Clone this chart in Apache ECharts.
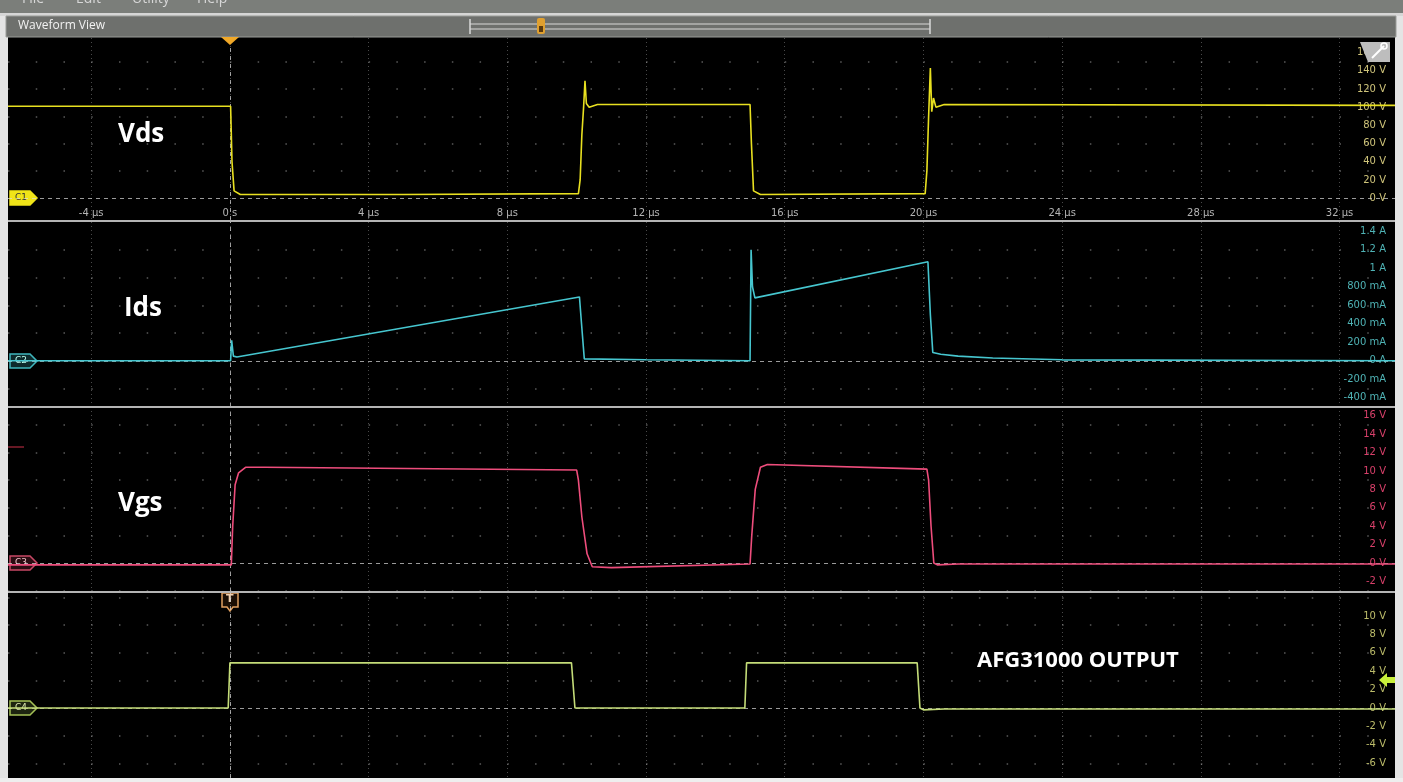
<!DOCTYPE html>
<html><head><meta charset="utf-8">
<script src="https://cdn.jsdelivr.net/npm/echarts@6/dist/echarts.min.js"></script>
<style>html,body{margin:0;padding:0;background:#000;overflow:hidden}#c{width:1403px;height:782px;}</style>
</head><body><div id="c"></div>
<script>
// ---- tick labels ----
const timeTicks = [-4, 0, 4, 8, 12, 16, 20, 24, 28, 32];
const vdsTicks = [0, 20, 40, 60, 80, 100, 120, 140, 160];
const idsTicks = [-0.4, -0.2, 0, 0.2, 0.4, 0.6, 0.8, 1.0, 1.2, 1.4];
const vgsTicks = [-2, 0, 2, 4, 6, 8, 10, 12, 14, 16];
const afgTicks = [-6, -4, -2, 0, 2, 4, 6, 8, 10];
// graticule dot rows
const vdsRows = [30, 60, 90, 120, 150];
const idsRows = [-0.3, 0.3, 0.6, 0.9, 1.2];
const vgsRows = [-3, 3, 6, 9, 12, 15];
const afgRows = [-6, -3, 3, 6, 9, 12];

// ---- series values: [time (µs), value] ----
const vdsData = [[-6.4,101],[0.02,101],[0.06,40],[0.12,8],[0.3,4],[5,4],[10.05,5],[10.1,20],[10.15,70],[10.2,100],[10.24,129],[10.28,104],[10.36,100],[10.6,103],[15.0,103],[15.04,60],[15.1,8],[15.3,4],[20.05,5],[20.1,30],[20.15,90],[20.2,143],[20.24,95],[20.29,110],[20.36,100],[20.6,103],[33.6,102]];
const idsData = [[-6.4,0],[0.02,0],[0.05,0.22],[0.1,0.05],[0.2,0.04],[10.08,0.69],[10.14,0.4],[10.22,0.02],[12,0.01],[15.0,0.0],[15.03,1.2],[15.07,0.8],[15.14,0.68],[20.13,1.07],[20.2,0.5],[20.27,0.09],[20.5,0.07],[21,0.05],[22,0.03],[24,0.01],[33.6,0]];
const vgsData = [[-6.4,-0.2],[0.04,-0.2],[0.08,4],[0.15,8.5],[0.25,9.8],[0.45,10.4],[1,10.4],[10.0,10.1],[10.05,9],[10.15,5],[10.3,1],[10.45,-0.4],[11,-0.5],[15.0,-0.1],[15.05,3],[15.15,8],[15.3,10.4],[15.5,10.7],[20.1,10.2],[20.15,9],[20.22,4],[20.3,0],[20.4,-0.2],[21,-0.1],[33.6,-0.1]];
const afgData = [[-6.4,0],[-0.05,0],[0.0,4.9],[9.85,4.9],[9.95,0],[14.85,0],[14.9,4.9],[19.82,4.9],[19.9,0],[20.0,-0.2],[20.6,-0.1],[33.6,-0.1]];

const chart = echarts.init(document.getElementById('c'), null, {renderer:'canvas'});

const panels = [
  {top:38, height:182, min:-24, max:176, ticks:vdsTicks, rows:vdsRows, color:'#e8e020', lab:'#cfc47a', data:vdsData, name:'Vds',
   fmt:v=>v+' V'},
  {top:222, height:185, min:-0.5, max:1.5, ticks:idsTicks, rows:idsRows, color:'#46c6cf', lab:'#4fb3b5', data:idsData, name:'Ids',
   fmt:v=>{const r=Math.round(v*1000); if(r===0) return '0 A'; if(Math.abs(r)>=1000) return (r/1000)+' A'; return r+' mA';}},
  {top:407, height:185, min:-3.15, max:16.95, ticks:vgsTicks, rows:vgsRows, color:'#ee4d7c', lab:'#d8406a', data:vgsData, name:'Vgs',
   fmt:v=>v+' V'},
  {top:592, height:186, min:-7.6, max:12.6, ticks:afgTicks, rows:afgRows, color:'#c4dc78', lab:'#bcbc6a', data:afgData, name:'AFG',
   fmt:v=>v+' V'}
];

const grid=[], xAxis=[], yAxis=[], series=[];
panels.forEach((p,i)=>{
  grid.push({left:8, right:8, top:p.top, height:p.height, containLabel:false});
  xAxis.push({type:'value', gridIndex:i, min:-6.4, max:33.6,
    axisLine:{show:false},
    axisTick:{show:false, customValues:timeTicks},
    axisLabel: i===0 ? {show:true, inside:true, customValues:timeTicks, margin:2, color:'#b4b4b4', fontSize:10, fontFamily:'DejaVu Sans',
      formatter:v=> v===0 ? '0 s' : v+' µs'} : {show:false},
    splitLine:{show:true, lineStyle:{color:'rgba(210,210,210,0.35)', width:1, type:[1,3]}}
  });
  yAxis.push({type:'value', gridIndex:i, position:'right', min:p.min, max:p.max,
    axisLine:{show:false},
    axisTick:{show:false, customValues:p.rows},
    axisLabel:{show:true, inside:true, customValues:p.ticks, margin:9, color:p.lab, fontSize:10, fontFamily:'DejaVu Sans', formatter:p.fmt},
    splitLine:{show:true, lineStyle:{color:'rgba(200,200,200,0.45)', width:1.5, type:[1.5,26.24]}}
  });
  series.push({name:p.name, type:'line', xAxisIndex:i, yAxisIndex:i, data:p.data, showSymbol:false, symbol:'none',
    animation:false, z:3,
    lineStyle:{color:p.color, width:1.6}, itemStyle:{color:p.color},
    markLine:{silent:true, symbol:'none', z:1, animation:false, label:{show:false},
      lineStyle:{color:'rgba(220,220,220,0.7)', width:1, type:[4,4]},
      data:[{yAxis:0},{xAxis:0}]}
  });
});

function tag(label, y, fill, stroke, txt){
  return {type:'group', z:100, children:[
    {type:'polygon', shape:{points:[[10,y-7],[30,y-7],[37,y],[30,y+7],[10,y+7]]}, style:{fill:fill, stroke:stroke, lineWidth:1.5}},
    {type:'text', x:15, y:y-5, style:{text:label, fill:txt, font:'9px DejaVu Sans'}}
  ]};
}

const graphic = [
  // outer frame strips
  {type:'rect', z:90, shape:{x:0,y:0,width:8,height:782}, style:{fill:'#e4e4e4'}},
  {type:'rect', z:90, shape:{x:1395,y:0,width:8,height:782}, style:{fill:'#e4e4e4'}},
  {type:'rect', z:90, shape:{x:0,y:778,width:1403,height:4}, style:{fill:'#eeeeee'}},
  // menu bar
  {type:'rect', z:90, shape:{x:0,y:0,width:1403,height:13}, style:{fill:'#7b7e7a'}},
  {type:'text', z:91, x:22, y:-8, style:{text:'File', fill:'#d8d8d8', font:'14px Open Sans'}},
  {type:'text', z:91, x:76, y:-8, style:{text:'Edit', fill:'#d8d8d8', font:'14px Open Sans'}},
  {type:'text', z:91, x:132, y:-8, style:{text:'Utility', fill:'#d8d8d8', font:'14px Open Sans'}},
  {type:'text', z:91, x:197, y:-8, style:{text:'Help', fill:'#d8d8d8', font:'14px Open Sans'}},
  {type:'rect', z:90, shape:{x:0,y:13,width:1403,height:3}, style:{fill:'#d6d6d6'}},
  // waveform view bar
  {type:'rect', z:90, shape:{x:6,y:16,width:1390,height:21}, style:{fill:'#6e706d', stroke:'#9a9c99', lineWidth:1}},
  {type:'text', z:91, x:18, y:20, style:{text:'Waveform View', fill:'#f2f2f2', font:'12px Open Sans'}},
  // slider
  {type:'line', z:91, shape:{x1:470,y1:24,x2:930,y2:24}, style:{stroke:'#d8d8d8', lineWidth:1}},
  {type:'line', z:91, shape:{x1:470,y1:29,x2:930,y2:29}, style:{stroke:'#d8d8d8', lineWidth:1}},
  {type:'line', z:91, shape:{x1:470,y1:19,x2:470,y2:34}, style:{stroke:'#d8d8d8', lineWidth:1.5}},
  {type:'line', z:91, shape:{x1:930,y1:19,x2:930,y2:34}, style:{stroke:'#d8d8d8', lineWidth:1.5}},
  {type:'rect', z:92, shape:{x:537,y:18,width:8,height:16,r:2}, style:{fill:'#e0a030'}},
  {type:'rect', z:93, shape:{x:539,y:26,width:4,height:6}, style:{fill:'#5a3a10'}},
  // panel separators
  {type:'rect', z:80, shape:{x:8,y:220,width:1387,height:2}, style:{fill:'#b4b4b4'}},
  {type:'rect', z:80, shape:{x:8,y:406,width:1387,height:2}, style:{fill:'#b4b4b4'}},
  {type:'rect', z:80, shape:{x:8,y:591,width:1387,height:2}, style:{fill:'#b4b4b4'}},
  // trigger position triangle
  {type:'polygon', z:100, shape:{points:[[221,37],[239,37],[230,45]]}, style:{fill:'#f0a828'}},
  // top-right icon
  {type:'polygon', z:100, shape:{points:[[1360,42],[1390,42],[1390,62],[1368,62]]}, style:{fill:'#bdbdbd'}},
  {type:'line', z:101, shape:{x1:1372,y1:58,x2:1384,y2:46}, style:{stroke:'#ffffff', lineWidth:2}},
  {type:'circle', z:101, shape:{cx:1384,cy:46,r:3}, style:{fill:'none', stroke:'#ffffff', lineWidth:1.5}},
  // channel tags
  tag('C1', 198, '#f0e418', '#f0e418', '#333'),
  tag('C2', 361, '#0d2a2c', '#3fb6bd', '#bfe'),
  tag('C3', 563, '#2a0c12', '#c84866', '#f0c0c8'),
  tag('C4', 708, '#1d2410', '#a4c056', '#dde8b0'),
  // C3 small offset marker
  {type:'line', z:100, shape:{x1:8,y1:447,x2:24,y2:447}, style:{stroke:'#8a2030', lineWidth:1.5}},
  // T marker
  {type:'group', z:100, children:[
    {type:'polygon', shape:{points:[[222,593],[238,593],[238,607],[233,607],[230,611],[227,607],[222,607]]}, style:{fill:'#1a0e04', stroke:'#e0a060', lineWidth:1.5}},
    {type:'text', x:226, y:594, style:{text:'T', fill:'#f0d0b0', font:'bold 11px DejaVu Sans'}}
  ]},
  // trigger level arrow
  {type:'polygon', z:100, shape:{points:[[1379,680],[1387,673],[1387,677],[1395,677],[1395,683],[1387,683],[1387,687]]}, style:{fill:'#c8ef3a'}},
  // annotations
  {type:'text', z:100, x:118, y:122, style:{text:'Vds', fill:'#ffffff', font:'bold 26px Open Sans'}},
  {type:'text', z:100, x:124, y:296, style:{text:'Ids', fill:'#ffffff', font:'bold 26px Open Sans'}},
  {type:'text', z:100, x:118, y:491, style:{text:'Vgs', fill:'#ffffff', font:'bold 26px Open Sans'}},
  {type:'text', z:100, x:977, y:650, style:{text:'AFG31000 OUTPUT', fill:'#ffffff', font:'bold 22px Open Sans'}}
];

chart.setOption({
  backgroundColor:'#000000',
  animation:false,
  grid, xAxis, yAxis, series, graphic
});
</script></body></html>
